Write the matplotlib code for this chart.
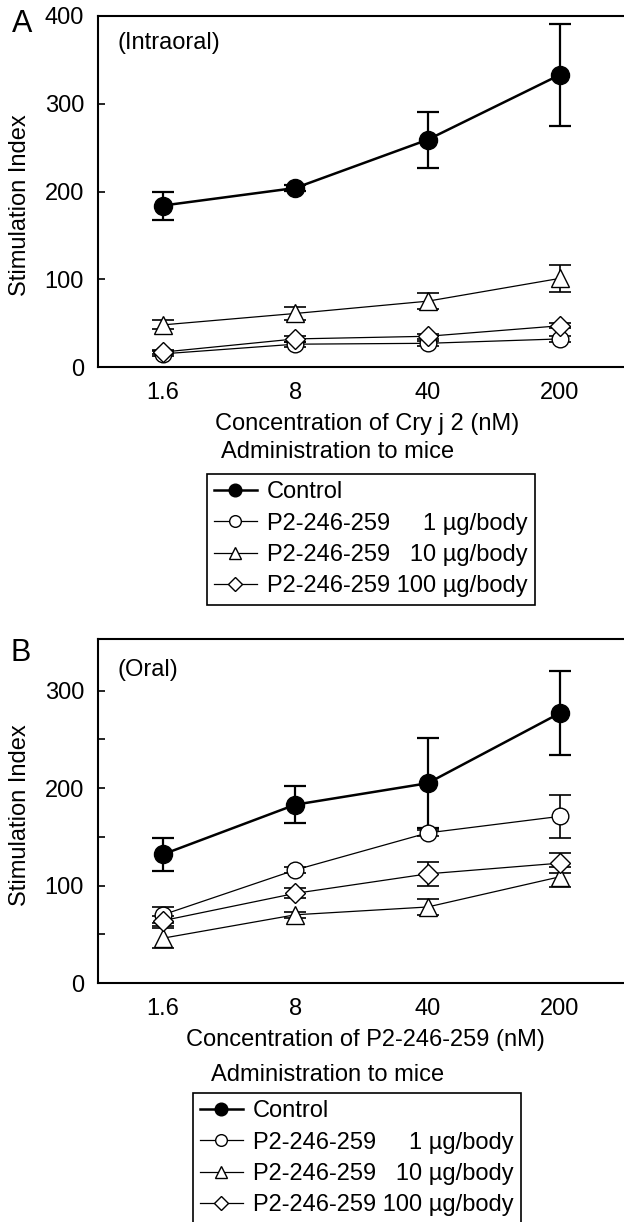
import matplotlib
matplotlib.use("Agg")
import matplotlib.pyplot as plt
from matplotlib.lines import Line2D

plt.rcParams['font.family'] = ['Liberation Sans', 'DejaVu Sans']
plt.rcParams['font.size'] = 17

# concentrations (nM)
conc = [1.6, 8, 40, 200]
conc_labels = ["1.6", "8", "40", "200"]

# panel A (intraoral)
a_ctrl = [184, 204, 259, 333]
a_ctrl_err = [16, 3, 32, 58]
a_1ug = [15, 26, 27, 32]
a_1ug_err = [3, 3, 3, 3]
a_10ug = [48, 61, 75, 101]
a_10ug_err = [5, 7, 9, 15]
a_100ug = [17, 32, 35, 47]
a_100ug_err = [2, 3, 3, 3]

# panel B (oral)
b_ctrl = [132, 183, 205, 277]
b_ctrl_err = [17, 19, 46, 43]
b_1ug = [70, 116, 154, 171]
b_1ug_err = [8, 3, 3, 22]
b_10ug = [46, 70, 78, 109]
b_10ug_err = [10, 3, 8, 10]
b_100ug = [64, 92, 112, 123]
b_100ug_err = [5, 5, 12, 10]

labels = ["Control",
          "P2-246-259 \u2007\u20071 \u00b5g/body",
          "P2-246-259 \u200710 \u00b5g/body",
          "P2-246-259 100 \u00b5g/body"]

W, H = 624, 1222
fig = plt.figure(figsize=(W / 100, H / 100), dpi=100)


def fx(px):
    return px / W


def fy(py):
    return 1 - py / H


# style per series: marker, size, fill, line width
styles = [
    dict(marker="o", ms=13, mfc="black", lw=1.8, elw=1.6),
    dict(marker="o", ms=12, mfc="white", lw=0.9, elw=1.2),
    dict(marker="^", ms=13, mfc="white", lw=0.9, elw=1.2),
    dict(marker="D", ms=10.5, mfc="white", lw=0.9, elw=1.2),
]


def draw_panel(ax, series, errs, ymax, yticks, ylabels_at, note):
    # open series first, control on top
    order = [2, 3, 1, 0]
    for i in order:
        st = styles[i]
        ax.errorbar(conc, series[i], yerr=errs[i], fmt="none", ecolor="black",
                    elinewidth=st["elw"], capsize=8, capthick=st["elw"], zorder=2 + i * 0.1)
        ax.plot(conc, series[i], color="black", lw=st["lw"], marker=st["marker"],
                ms=st["ms"], mfc=st["mfc"], mec="black", mew=1.0, zorder=3 + i * 0.1,
                clip_on=False)
    ax.set_xscale("log")
    ax.set_xlim(1.6 * 5 ** -0.491, 1.6 * 5 ** 3.484)
    ax.set_xticks(conc)
    ax.set_xticklabels(conc_labels)
    ax.minorticks_off()
    ax.set_ylim(0, ymax)
    ax.set_yticks(yticks)
    ax.set_yticklabels([str(t) if t in ylabels_at else "" for t in yticks])
    ax.tick_params(axis="x", length=0, pad=11)
    ax.tick_params(axis="y", direction="in", length=5, width=1.2, pad=10)
    ax.spines["right"].set_visible(False)
    for s in ("left", "top", "bottom"):
        ax.spines[s].set_linewidth(1.5)
    ax.text(0.038, note[1], note[0], transform=ax.transAxes, ha="left", va="center")


def make_legend(x_px, y_px):
    handles = []
    for st in styles:
        handles.append(Line2D([], [], color="black", lw=st["lw"], marker=st["marker"],
                              ms=st["ms"] * 0.7, mfc=st["mfc"], mec="black", mew=1.0))
    leg = fig.legend(handles, labels, loc="upper left", bbox_to_anchor=(fx(x_px), fy(y_px)),
                     bbox_transform=fig.transFigure, borderaxespad=0, fancybox=False,
                     edgecolor="black", framealpha=1, handlelength=1.8, handletextpad=0.45,
                     labelspacing=0.4, borderpad=0.3, fontsize=17)
    leg.get_frame().set_linewidth(1.2)
    return leg


# panel A
axA = fig.add_axes([fx(98), fy(367), 1 - fx(98), fy(16) - fy(367)])
draw_panel(axA, [a_ctrl, a_1ug, a_10ug, a_100ug],
           [a_ctrl_err, a_1ug_err, a_10ug_err, a_100ug_err],
           400, [0, 100, 200, 300, 400], [0, 100, 200, 300, 400], ("(Intraoral)", 0.923))
fig.text(fx(20), fy(205), "Stimulation Index", rotation=90, ha="center", va="center")
fig.text(fx(22), fy(24), "A", ha="center", va="center", fontsize=22)
fig.text(fx(367), fy(424), "Concentration of Cry j 2 (nM)", ha="center", va="center")
fig.text(fx(221), fy(452), "Administration to mice", ha="left", va="center")
make_legend(207, 474)

# panel B
axB = fig.add_axes([fx(98), fy(983), 1 - fx(98), fy(639) - fy(983)])
draw_panel(axB, [b_ctrl, b_1ug, b_10ug, b_100ug],
           [b_ctrl_err, b_1ug_err, b_10ug_err, b_100ug_err],
           353, [0, 50, 100, 150, 200, 250, 300], [0, 100, 200, 300], ("(Oral)", 0.91))
fig.text(fx(20), fy(815), "Stimulation Index", rotation=90, ha="center", va="center")
fig.text(fx(21), fy(653), "B", ha="center", va="center", fontsize=22)
fig.text(fx(365), fy(1040), "Concentration of P2-246-259 (nM)", ha="center", va="center")
fig.text(fx(211), fy(1075), "Administration to mice", ha="left", va="center")
make_legend(193, 1093)

fig.savefig("out.png", dpi=100)
